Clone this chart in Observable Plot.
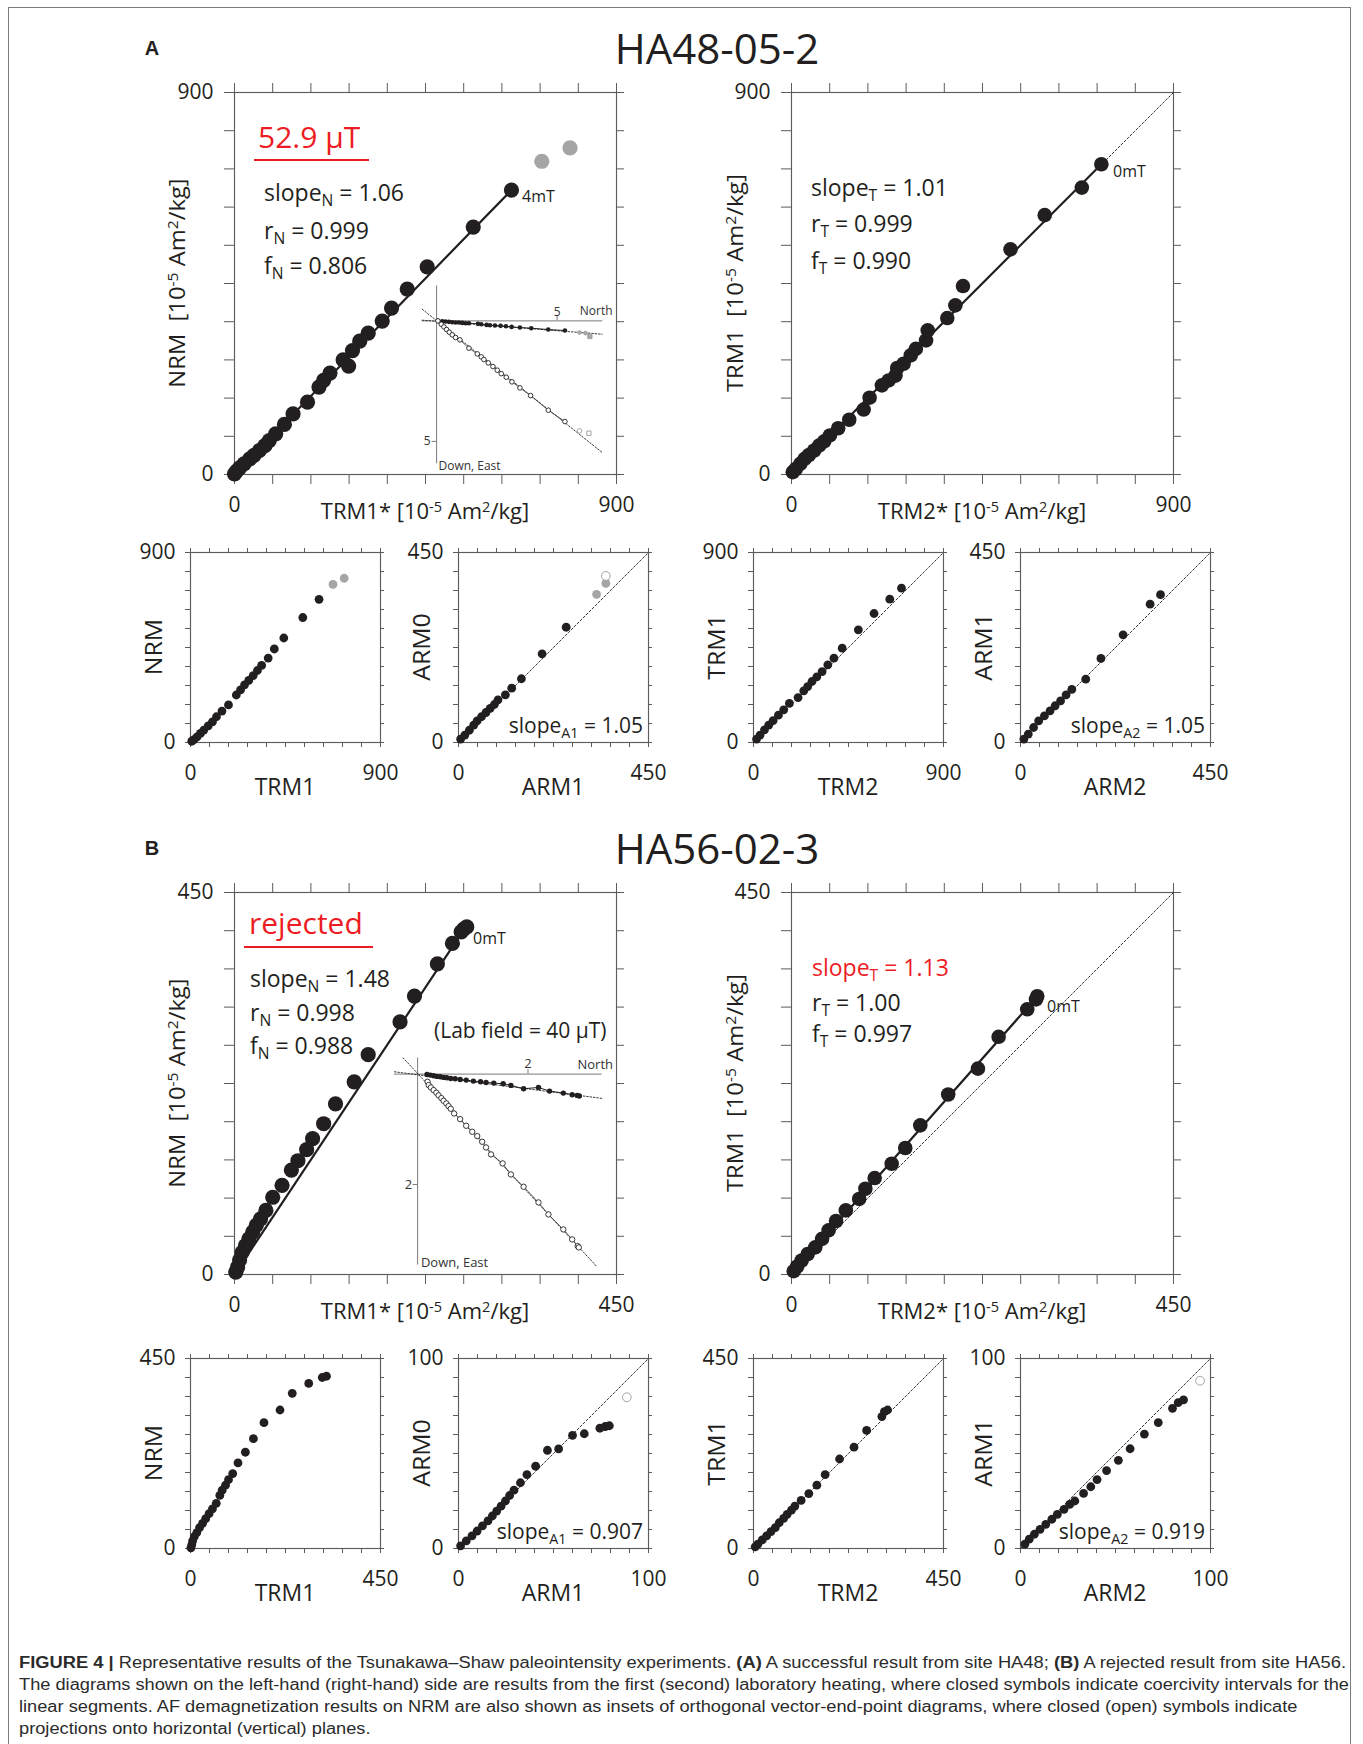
<!DOCTYPE html>
<html><head><meta charset="utf-8">
<script src="https://cdn.jsdelivr.net/npm/d3@7"></script>
<script src="https://cdn.jsdelivr.net/npm/@observablehq/plot@0.6"></script>
<style>
body{margin:0;background:#fff;}
#fig{position:relative;width:1363px;height:1744px;overflow:hidden;background:#fff;font-family:"Open Sans",sans-serif;color:#231f20;}
.t{position:absolute;white-space:nowrap;line-height:1;}
.sub{position:relative;top:0.32em;font-size:0.68em;}
.sup{position:relative;top:-0.5em;font-size:0.66em;}
.cap{position:absolute;white-space:nowrap;line-height:1;font-family:"Liberation Sans",Arial,sans-serif;font-size:16px;color:#2b2b2b;transform-origin:0 50%;}
</style></head><body><div id="fig"></div><script>
// ---------------- DATA ----------------
const ticks900 = [0, 90, 180, 270, 360, 450, 540, 630, 720, 810, 900];
const ticks450 = [0, 45, 90, 135, 180, 225, 270, 315, 360, 405, 450];
const ticks100 = [0, 10, 20, 30, 40, 50, 60, 70, 80, 90, 100];

// Panel A (HA48-05-2) main left: NRM vs TRM1*
const aNrmX = [0, 5, 12, 22.5, 36, 46, 59, 71.6, 82, 97, 117.6, 138, 172, 199, 210, 225, 269, 256, 278, 295, 315, 348, 370, 407, 454, 562.5, 652.5];
const aNrmY = [1.6, 8, 15.7, 25, 37, 45, 56.6, 68, 80, 96, 118, 143, 170.5, 206, 222, 239, 255.5, 270, 292, 314, 333, 361.5, 392, 437, 489, 583, 670];
const aNrmGrayX = [724, 790.5];
const aNrmGrayY = [738, 769.5];
const aNrmFitX = [0, 652.5];
const aNrmFitY = [0, 670];

// Panel A main right: TRM1 vs TRM2*
const aTrmX = [3, 10, 20.6, 31, 41, 53.5, 65, 77, 90.5, 110, 136, 170, 184, 213, 229, 245, 249, 264, 281, 293, 317, 321, 367, 386, 404, 516, 596.6, 684, 730];
const aTrmY = [5.5, 13, 25, 37, 46, 56.6, 68, 78, 92, 109, 129, 153, 181, 210, 221.6, 233, 251, 261, 280.6, 296, 316, 339.6, 368.6, 398.5, 444, 530.5, 611, 676, 731];
const aTrmFitX = [0, 730];
const aTrmFitY = [0, 731];

// Panel A small: NRM vs TRM1
const aS1X = [6, 16, 31, 47, 63, 84, 104, 123, 149, 180, 217, 237, 256, 276, 297, 317, 337, 368, 397, 442, 532, 609];
const aS1Y = [6, 14, 27, 43, 59, 79, 98, 122, 149, 178, 225, 249, 273, 294, 317, 341, 365, 400, 443, 495, 592, 678];
const aS1GrayX = [675, 728];
const aS1GrayY = [749, 778];
// ARM0 vs ARM1
const aS2X = [5, 15, 25.7, 36, 44, 54.5, 65, 75, 85, 93.5, 111, 126, 149, 198, 255];
const aS2Y = [8, 17.5, 29, 41, 51, 61, 71, 81, 90, 101, 113, 128.6, 151, 210, 273];
const aS2GrayX = [327, 349];
const aS2GrayY = [351, 377];
const aS2OpenX = [349];
const aS2OpenY = [394.5];
// TRM1 vs TRM2
const aS3X = [14.5, 31, 52, 72, 93, 118, 143, 170, 211, 238, 256.6, 277, 300, 325, 352, 381, 420, 496.6, 571, 645.5, 701];
const aS3Y = [16, 35, 60, 82, 104, 129.5, 155, 185, 213, 245, 265, 289, 311, 336, 368, 399.5, 447, 533.7, 611, 679, 731];
// ARM1 vs ARM2
const aS4X = [8, 18.5, 31, 43, 56.6, 70, 82, 95, 108, 121.5, 154.5, 190.5, 243, 307, 331.6];
const aS4Y = [8, 20, 35.5, 51, 63, 75, 87, 98.7, 113, 126, 150, 199, 255, 327.6, 350];

// Panel A inset (orthogonal vector plot)
const aZhU = [0.055, 0.235, 0.373, 0.512, 0.65, 0.788, 0.927, 1.065, 1.203, 1.342, 1.715, 1.853, 2.075, 2.213, 2.42, 2.656, 2.877, 3.112, 3.458, 3.928, 4.634, 5.325];
const aZhV = [0, 0.014, 0.028, 0.041, 0.055, 0.069, 0.069, 0.083, 0.097, 0.097, 0.124, 0.138, 0.166, 0.18, 0.194, 0.207, 0.221, 0.249, 0.277, 0.304, 0.36, 0.40];
const aZhGrayU = [5.93, 6.18];
const aZhGrayV = [0.484, 0.51];
const aZvU = [0.055, 0.194, 0.304, 0.415, 0.526, 0.65, 0.788, 0.968, 1.342, 1.688, 1.853, 1.964, 2.144, 2.337, 2.517, 2.683, 2.89, 3.126, 3.458, 3.9, 4.634, 5.325];
const aZvV = [0, 0.138, 0.249, 0.36, 0.47, 0.58, 0.69, 0.788, 1.134, 1.369, 1.494, 1.604, 1.743, 1.895, 2.047, 2.19, 2.337, 2.53, 2.78, 3.1, 3.706, 4.177];
const aZvGrayU = [5.93];
const aZvGrayV = [4.564];
const aZSqU = [6.36, 6.32];
const aZSqV = [0.65, 4.66];
const aZhFitU = [-0.595, 6.874];
const aZhFitV = [-0.028, 0.553];
const aZvFitU = [-0.595, 6.874];
const aZvFitV = [-0.484, 5.463];

// Panel B (HA56-02-3) main left: NRM vs TRM1*
const bNrmX = [1.5, 3.6, 6, 9, 13, 17, 21.5, 25.6, 30.7, 37, 45, 56, 67, 74.7, 85, 92, 105, 119, 141, 157.5, 195, 212, 239, 256.7, 267, 270, 273.6];
const bNrmY = [2.7, 8.6, 17, 26, 34, 42, 50, 57.8, 65.6, 75.5, 91, 105, 123, 134, 147, 160, 177.6, 201, 227, 259, 297.5, 328, 366, 390, 403.6, 407, 409.5];
const bNrmFitX = [0, 271];
const bNrmFitY = [0, 407.5];

// Panel B main right: TRM1 vs TRM2*
const bTrmX = [2.6, 6.7, 12, 19, 28, 36, 43.7, 52.5, 64, 79.7, 87, 98, 118, 134, 151.7, 184.6, 219.6, 244, 277.7, 288, 289.5];
const bTrmY = [3.9, 9.4, 16.5, 24, 32, 42, 52, 63, 75.5, 89, 101, 113.6, 130.5, 149, 175.7, 212, 242.5, 280, 312.4, 324, 327.8];
const bTrmFitX = [0, 289];
const bTrmFitY = [0, 327];

// Panel B small
const bS1X = [1, 3, 5, 9, 15, 21.5, 28.6, 36, 44, 52, 61, 69.5, 75, 83, 90, 100, 112.5, 130, 149, 174, 212, 241, 280, 312, 322];
const bS1Y = [1.6, 8.6, 18, 28, 37.7, 49.5, 59.7, 70.7, 82.5, 94, 107, 125.6, 138, 150, 163, 177.5, 202.6, 228, 260, 298, 328, 367.5, 391, 405, 408];
const bS2X = [1.1, 4.1, 7.1, 9.8, 12.6, 15.5, 17.8, 20.1, 22.4, 24.7, 26.9, 29.2, 32.6, 36, 40.6, 46.8, 52.7, 60, 66.2, 74.4, 77.2, 79.4];
const bS2Y = [1.4, 4, 6.6, 9.2, 11.9, 14.5, 17.1, 19.7, 22.3, 25, 27.9, 30.7, 34.6, 38.9, 43.3, 51.7, 52.4, 59.5, 60.4, 63.3, 64.2, 64.6];
const bS2OpenX = [88.6];
const bS2OpenY = [79.6];
const bS3X = [4, 10.3, 20.7, 31, 41.4, 51.7, 61, 71.4, 79.7, 90, 98, 112.8, 131, 150, 169.7, 203.8, 238, 268, 304, 310, 317.6];
const bS3Y = [4, 10.2, 20.4, 29.8, 40, 49.5, 61, 71.5, 81, 91, 100.5, 113.9, 130, 150, 175, 212, 240, 279.6, 312.5, 324, 328];
const bS4X = [2.3, 4.6, 7.3, 10.3, 13.3, 16.5, 19.4, 22.9, 25.9, 28.6, 33.2, 37, 40.3, 45.3, 51.5, 57.7, 65.2, 72.5, 80, 83, 85.8];
const bS4Y = [2.3, 4.9, 7.5, 10.1, 12.7, 15.4, 18, 20.6, 23.2, 25, 29, 32.5, 36.3, 41, 46.4, 52.5, 60.2, 66.3, 73.8, 76.8, 78.2];
const bS4OpenX = [94.5];
const bS4OpenY = [88.3];

// Panel B inset
const bZhU = [0.17, 0.23, 0.29, 0.35, 0.41, 0.47, 0.53, 0.60, 0.68, 0.77, 0.88, 1.01, 1.14, 1.24, 1.38, 1.55, 1.69, 1.92, 2.19, 2.39, 2.64, 2.80, 2.89, 2.93];
const bZhV = [0.006, 0.018, 0.03, 0.042, 0.048, 0.06, 0.066, 0.079, 0.085, 0.097, 0.109, 0.127, 0.139, 0.151, 0.163, 0.175, 0.205, 0.266, 0.242, 0.308, 0.344, 0.374, 0.386, 0.398];
const bZvU = [0.18, 0.20, 0.24, 0.29, 0.34, 0.38, 0.43, 0.47, 0.52, 0.56, 0.60, 0.66, 0.77, 0.88, 0.99, 1.08, 1.17, 1.24, 1.33, 1.54, 1.69, 1.92, 2.19, 2.37, 2.64, 2.80, 2.90, 2.92];
const bZvV = [0.139, 0.199, 0.242, 0.29, 0.338, 0.386, 0.435, 0.483, 0.531, 0.58, 0.628, 0.713, 0.815, 0.936, 1.045, 1.123, 1.226, 1.329, 1.455, 1.618, 1.818, 2.041, 2.325, 2.542, 2.814, 2.995, 3.116, 3.14];
const bZhFitU = [-0.42, 3.34];
const bZhFitV = [-0.042, 0.44];
const bZvFitU = [-0.265, 3.24];
const bZvFitV = [-0.296, 3.48];

const captionLines = [
  '<b>FIGURE 4 |</b> Representative results of the Tsunakawa–Shaw paleointensity experiments. <b>(A)</b> A successful result from site HA48; <b>(B)</b> A rejected result from site HA56.',
  'The diagrams shown on the left-hand (right-hand) side are results from the first (second) laboratory heating, where closed symbols indicate coercivity intervals for the',
  'linear segments. AF demagnetization results on NRM are also shown as insets of orthogonal vector-end-point diagrams, where closed (open) symbols indicate',
  'projections onto horizontal (vertical) planes.'
];

// ---------------- DRAWING ----------------
const fig = document.getElementById("fig");
const INK = "#231f20", AXIS = "#5c5c5c", GRAY = "#a5a5a5", RED = "#ed1c24";
const pts = (xs, ys) => xs.map((x, i) => ({x, y: ys[i]}));

function text(html, x, y, o = {}) {
  const d = document.createElement("div");
  d.className = "t";
  d.innerHTML = html;
  d.style.left = x + "px";
  d.style.top = y + "px";
  d.style.fontSize = (o.size || 23) + "px";
  d.style.color = o.color || INK;
  if (o.weight) d.style.fontWeight = o.weight;
  if (o.family) d.style.fontFamily = o.family;
  const tx = o.anchor === "middle" ? "-50%" : o.anchor === "end" ? "-100%" : "0";
  d.style.transform = `translate(${tx}, -50%)` + (o.rotate ? ` rotate(-90deg) scaleX(${o.stretch || 1})` : "");
  fig.appendChild(d);
  return d;
}
function hline(x1, x2, y, color, w) {
  const d = document.createElement("div");
  Object.assign(d.style, {position: "absolute", left: x1 + "px", top: (y - w / 2) + "px", width: (x2 - x1) + "px", height: w + "px", background: color});
  fig.appendChild(d);
}

function scatter(o) {
  const {left, top, size, ticks, tickLen, padX, padY, fs, r} = o;
  const lo = ticks[0], max = ticks[ticks.length - 1];
  const m = {l: 80, r: 30, t: 30, b: 60};
  const endLabel = d => (d === lo || d === max) ? String(d) : "";
  const marks = [
    Plot.frame({stroke: AXIS, strokeWidth: 1.15}),
    Plot.axisX({ticks, anchor: "top", tickSize: tickLen, tickFormat: () => "", stroke: AXIS, label: null}),
    Plot.axisX({ticks, anchor: "bottom", tickSize: tickLen, tickPadding: padX, tickFormat: endLabel, fontSize: fs, fill: INK, stroke: AXIS, label: null}),
    Plot.axisY({ticks, anchor: "left", tickSize: tickLen, tickPadding: padY, tickFormat: endLabel, fontSize: fs, fill: INK, stroke: AXIS, label: null}),
    Plot.axisY({ticks, anchor: "right", tickSize: Math.round(tickLen * 0.65), tickFormat: () => "", stroke: AXIS, label: null})
  ];
  if (o.diag) marks.push(Plot.line([{x: lo, y: lo}, {x: max, y: max}], {x: "x", y: "y", stroke: INK, strokeWidth: 0.9, strokeDasharray: "2.2,2"}));
  if (o.fit) marks.push(Plot.line(o.fit, {x: "x", y: "y", stroke: INK, strokeWidth: 2.2}));
  if (o.grayClosed) marks.push(Plot.dot(o.grayClosed, {x: "x", y: "y", r, fill: GRAY}));
  if (o.grayOpen) marks.push(Plot.dot(o.grayOpen, {x: "x", y: "y", r, fill: "white", stroke: GRAY, strokeWidth: 1}));
  marks.push(Plot.dot(o.closed, {x: "x", y: "y", r, fill: INK}));
  const svg = Plot.plot({
    width: size + m.l + m.r, height: size + m.t + m.b,
    marginLeft: m.l, marginRight: m.r, marginTop: m.t, marginBottom: m.b,
    x: {domain: [lo, max]}, y: {domain: [lo, max]},
    style: {fontFamily: "Open Sans", background: "transparent", overflow: "visible", color: INK},
    marks
  });
  Object.assign(svg.style, {position: "absolute", left: (left - m.l) + "px", top: (top - m.t) + "px", maxWidth: "none"});
  fig.appendChild(svg);
}

function inset(o) {
  const {ox, oy, ppu, xdom, ydom, hAxis, vAxis, tick, fs, r, lab} = o;
  const w = (xdom[1] - xdom[0]) * ppu, h = (ydom[1] - ydom[0]) * ppu;
  const tl = 4.5 / ppu;
  const AX = "#7a7a7a";
  const marks = [
    Plot.ruleY([0], {x1: hAxis[0], x2: hAxis[1], stroke: AX, strokeWidth: 1}),
    Plot.ruleX([0], {y1: vAxis[0], y2: vAxis[1], stroke: AX, strokeWidth: 1}),
    Plot.ruleX([tick], {y1: -tl, y2: 0, stroke: AX}),
    Plot.ruleY([tick], {x1: -tl, x2: 0, stroke: AX}),
    Plot.text([tick], {x: d => d, y: lab.hTick[1], text: d => String(d), fontSize: fs, fill: "#333"}),
    Plot.text([tick], {x: lab.vTick[0], y: d => d, text: d => String(d), fontSize: fs, fill: "#333", textAnchor: "end"}),
    Plot.text(["North"], {x: lab.north[0], y: lab.north[1], text: d => d, fontSize: fs, fill: "#333", textAnchor: "end"}),
    Plot.text(["Down, East"], {x: lab.down[0], y: lab.down[1], text: d => d, fontSize: fs, fill: "#333", textAnchor: "start"}),
    Plot.line(o.fitH, {x: "x", y: "y", stroke: INK, strokeWidth: 0.9, strokeDasharray: "1.6,1.8"}),
    Plot.line(o.fitV, {x: "x", y: "y", stroke: INK, strokeWidth: 0.9, strokeDasharray: "1.6,1.8"}),
    Plot.line(o.closed, {x: "x", y: "y", stroke: INK, strokeWidth: 1}),
    Plot.line(o.open, {x: "x", y: "y", stroke: INK, strokeWidth: 0.7})
  ];
  if (o.grayClosed) marks.push(Plot.dot(o.grayClosed, {x: "x", y: "y", r, fill: GRAY}));
  if (o.grayOpen) marks.push(Plot.dot(o.grayOpen, {x: "x", y: "y", r, fill: "white", stroke: GRAY, strokeWidth: 1}));
  if (o.graySquares) marks.push(Plot.dot(o.graySquares, {x: "x", y: "y", r: r * 1.05, symbol: "square", fill: (d, i) => i === 0 ? GRAY : "white", stroke: GRAY, strokeWidth: 1}));
  marks.push(Plot.dot(o.closed, {x: "x", y: "y", r, fill: INK}));
  marks.push(Plot.dot(o.open, {x: "x", y: "y", r, fill: "white", stroke: INK, strokeWidth: 0.9}));
  const svg = Plot.plot({
    width: w, height: h, margin: 0,
    x: {domain: xdom, axis: null}, y: {domain: ydom, reverse: true, axis: null},
    style: {fontFamily: "Open Sans", background: "transparent", overflow: "visible"},
    marks
  });
  Object.assign(svg.style, {position: "absolute", left: (ox + xdom[0] * ppu) + "px", top: (oy + ydom[0] * ppu) + "px", maxWidth: "none"});
  fig.appendChild(svg);
}

// outer border
const border = document.createElement("div");
Object.assign(border.style, {position: "absolute", left: "8px", top: "7px", width: "1343px", height: "1800px", border: "1.3px solid #7d7d7d", boxSizing: "border-box"});
fig.appendChild(border);

const unit = '[10<span class="sup">-5</span> Am<span class="sup">2</span>/kg]';
const MAIN = 382, SMALL = 190;
const mainX = [234, 791], smallX = [190, 458, 753, 1020];

function section(o) {
  const {y0, ys, letter, title} = o;
  text(letter, 152, y0 - 44, {size: 20, weight: "bold", family: "Liberation Sans, Arial, sans-serif", anchor: "middle"});
  text(title, 717, y0 - 44, {size: 42, anchor: "middle"});
  // main panels
  scatter({left: mainX[0], top: y0, size: MAIN, ticks: o.mainTicks, tickLen: 10, padX: 13, padY: 11, fs: 21, r: 7.6, closed: o.nrm, grayClosed: o.nrmGray, fit: o.nrmFit});
  scatter({left: mainX[1], top: y0, size: MAIN, ticks: o.mainTicks, tickLen: 10, padX: 13, padY: 11, fs: 21, r: 7.3, closed: o.trm, fit: o.trmFit, diag: true});
  const cy = y0 + MAIN / 2;
  text('NRM&nbsp;&nbsp;' + unit, mainX[0] - 58, cy, {size: 22, anchor: "middle", rotate: true, stretch: 1.08});
  text('TRM1&nbsp;&nbsp;' + unit, mainX[1] - 57, cy, {size: 22, anchor: "middle", rotate: true, stretch: 1.08});
  text('TRM1* ' + unit, mainX[0] + MAIN / 2, y0 + MAIN + 36, {size: 22, anchor: "middle"});
  text('TRM2* ' + unit, mainX[1] + MAIN / 2, y0 + MAIN + 36, {size: 22, anchor: "middle"});
  // small panels
  const sy = ys;
  const sm = [
    {ticks: o.s1Ticks, closed: o.s1, grayClosed: o.s1Gray, diag: false, ylab: "NRM", xlab: "TRM1"},
    {ticks: o.s2Ticks, closed: o.s2, grayClosed: o.s2Gray, grayOpen: o.s2Open, diag: true, ylab: "ARM0", xlab: "ARM1"},
    {ticks: o.s1Ticks, closed: o.s3, diag: true, ylab: "TRM1", xlab: "TRM2"},
    {ticks: o.s2Ticks, closed: o.s4, grayOpen: o.s4Open, diag: true, ylab: "ARM1", xlab: "ARM2"}
  ];
  sm.forEach((p, i) => {
    scatter({left: smallX[i], top: sy, size: SMALL, ticks: p.ticks, tickLen: 5, padX: 18, padY: 10, fs: 21, r: 4.4, closed: p.closed, grayClosed: p.grayClosed, grayOpen: p.grayOpen, diag: p.diag});
    text(p.ylab, smallX[i] - 37, sy + SMALL / 2, {size: 23, anchor: "middle", rotate: true, stretch: 1.08});
    text(p.xlab, smallX[i] + SMALL / 2, sy + SMALL + 44, {size: 23, anchor: "middle"});
  });
  text('slope<span class="sub">A1</span> = ' + o.slopeA1, smallX[1] + SMALL - 5, sy + SMALL - 17, {size: 21, anchor: "end"});
  text('slope<span class="sub">A2</span> = ' + o.slopeA2, smallX[3] + SMALL - 5, sy + SMALL - 17, {size: 21, anchor: "end"});
}

// ---- Section A ----
section({
  y0: 92, ys: 552, letter: "A", title: "HA48-05-2", mainTicks: ticks900,
  nrm: pts(aNrmX, aNrmY), nrmGray: pts(aNrmGrayX, aNrmGrayY), nrmFit: pts(aNrmFitX, aNrmFitY),
  trm: pts(aTrmX, aTrmY), trmFit: pts(aTrmFitX, aTrmFitY),
  s1Ticks: ticks900, s2Ticks: ticks450,
  s1: pts(aS1X, aS1Y), s1Gray: pts(aS1GrayX, aS1GrayY),
  s2: pts(aS2X, aS2Y), s2Gray: pts(aS2GrayX, aS2GrayY), s2Open: pts(aS2OpenX, aS2OpenY),
  s3: pts(aS3X, aS3Y), s4: pts(aS4X, aS4Y),
  slopeA1: "1.05", slopeA2: "1.05"
});
text('52.9 μT', 258, 137, {size: 30, color: RED});
hline(254, 369, 160, RED, 2);
text('slope<span class="sub">N</span> = 1.06', 264, 192, {size: 23});
text('r<span class="sub">N</span> = 0.999', 264, 230, {size: 23});
text('f<span class="sub">N</span> = 0.806', 264, 265, {size: 23});
text('4mT', 522, 196, {size: 16});
text('slope<span class="sub">T</span> = 1.01', 811, 187, {size: 23});
text('r<span class="sub">T</span> = 0.999', 811, 223, {size: 23});
text('f<span class="sub">T</span> = 0.990', 811, 260, {size: 23});
text('0mT', 1113, 171, {size: 16});
inset({
  ox: 436, oy: 320, ppu: 24.1, xdom: [-1.0, 7.6], ydom: [-1.8, 6.5], hAxis: [-0.6, 6.9], vAxis: [-1.45, 5.93], tick: 5, fs: 12, r: 2.3,
  lab: {hTick: [5, -0.38], vTick: [-0.25, 5], north: [7.3, -0.42], down: [0.08, 6.02]},
  closed: pts(aZhU, aZhV), open: pts(aZvU, aZvV),
  grayClosed: pts(aZhGrayU, aZhGrayV), grayOpen: pts(aZvGrayU, aZvGrayV), graySquares: pts(aZSqU, aZSqV),
  fitH: pts(aZhFitU, aZhFitV), fitV: pts(aZvFitU, aZvFitV)
});

// ---- Section B ----
section({
  y0: 892, ys: 1358, letter: "B", title: "HA56-02-3", mainTicks: ticks450,
  nrm: pts(bNrmX, bNrmY), nrmFit: pts(bNrmFitX, bNrmFitY),
  trm: pts(bTrmX, bTrmY), trmFit: pts(bTrmFitX, bTrmFitY),
  s1Ticks: ticks450, s2Ticks: ticks100,
  s1: pts(bS1X, bS1Y), s2: pts(bS2X, bS2Y), s2Open: pts(bS2OpenX, bS2OpenY),
  s3: pts(bS3X, bS3Y), s4: pts(bS4X, bS4Y), s4Open: pts(bS4OpenX, bS4OpenY),
  slopeA1: "0.907", slopeA2: "0.919"
});
text('rejected', 249, 923, {size: 30, color: RED});
hline(244, 373, 947, RED, 2);
text('slope<span class="sub">N</span> = 1.48', 250, 978, {size: 23});
text('r<span class="sub">N</span> = 0.998', 250, 1012, {size: 23});
text('f<span class="sub">N</span> = 0.988', 250, 1045, {size: 23});
text('(Lab field = 40 μT)', 434, 1030, {size: 21});
text('0mT', 473, 938, {size: 16});
text('slope<span class="sub">T</span> = 1.13', 812, 967, {size: 23, color: RED});
text('r<span class="sub">T</span> = 1.00', 812, 1002, {size: 23});
text('f<span class="sub">T</span> = 0.997', 812, 1033, {size: 23});
text('0mT', 1047, 1006, {size: 16});
inset({
  ox: 417.3, oy: 1074, ppu: 55.2, xdom: [-0.6, 3.75], ydom: [-0.5, 3.65], hAxis: [-0.42, 3.34], vAxis: [-0.29, 3.46], tick: 2, fs: 13, r: 2.7,
  lab: {hTick: [2, -0.19], vTick: [-0.1, 2], north: [3.54, -0.17], down: [0.06, 3.42]},
  closed: pts(bZhU, bZhV), open: pts(bZvU, bZvV),
  fitH: pts(bZhFitU, bZhFitV), fitV: pts(bZvFitU, bZvFitV)
});

// ---- Caption ----
const capY = [1663, 1685, 1707, 1729];
const capEls = captionLines.map((html, i) => {
  const d = document.createElement("div");
  d.className = "cap";
  d.innerHTML = html;
  d.style.left = "19px";
  d.style.top = (capY[i] - 8) + "px";
  fig.appendChild(d);
  return d;
});
const w2 = capEls[1].getBoundingClientRect().width;
const kRef = 1330 / w2;
capEls.forEach((d, i) => {
  const w = d.getBoundingClientRect().width;
  const k = i === 0 ? 1327 / w : kRef;
  d.style.transform = `scaleX(${k})`;
});
</script></body></html>
